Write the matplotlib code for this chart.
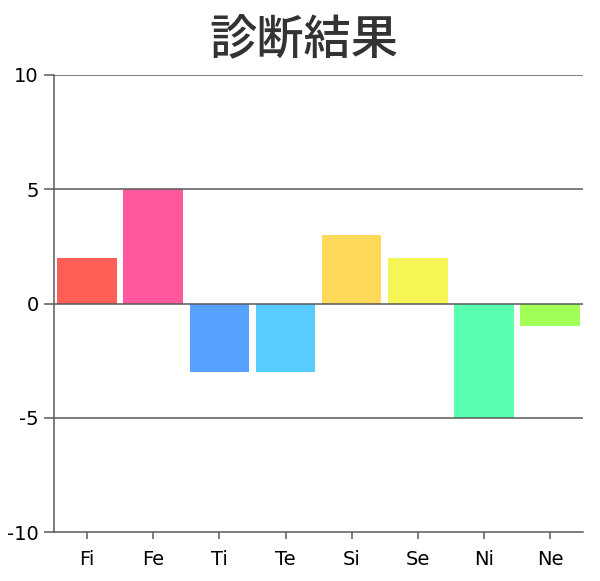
import matplotlib

matplotlib.use("Agg")

import matplotlib.pyplot as plt

categories = ["Fi", "Fe", "Ti", "Te", "Si", "Se", "Ni", "Ne"]
values = [2, 5, -3, -3, 3, 2, -5, -1]
bar_colors = ["#FF5E57", "#FF589E", "#58A2FF", "#58CCFF",
              "#FFD95A", "#F5F556", "#58FFB0", "#A2FF58"]
y_ticks = [-10, -5, 0, 5, 10]
title = "診断結果"

line_color = "#5a5a5a"

plt.rcParams["font.family"] = ["DejaVu Sans", "Noto Sans CJK JP"]
plt.rcParams["axes.unicode_minus"] = False

fig = plt.figure(figsize=(6.0, 5.81), dpi=100)
ax = fig.add_axes([0.09, 0.084, 0.882, 0.787])

x = range(len(categories))
ax.bar(x, values, width=0.9, color=bar_colors, zorder=1)

ax.set_xlim(-0.5, len(categories) - 0.5)
ax.set_ylim(min(y_ticks), max(y_ticks))
ax.set_yticks(y_ticks)
ax.set_xticks(list(x))
ax.set_xticklabels(categories)

# horizontal grid lines drawn over the bars at each tick above the floor
for t in y_ticks[1:]:
    ax.axhline(t, color=line_color, linewidth=1.1, zorder=3)

for side in ("top", "right"):
    ax.spines[side].set_visible(False)
for side in ("left", "bottom"):
    ax.spines[side].set_color(line_color)
    ax.spines[side].set_linewidth(1.1)

ax.tick_params(axis="y", length=7, width=1.1, color=line_color,
               labelsize=14, labelcolor="#000000", pad=4)
ax.tick_params(axis="x", length=5, width=1.1, color=line_color,
               labelsize=14, labelcolor="#000000", pad=8)

fig.text(0.507, 0.93, title, ha="center", va="center", fontsize=34,
         fontweight="medium", color="#333333",
         family=["Noto Sans CJK JP", "DejaVu Sans"])

fig.savefig("out.png", dpi=100, facecolor="white")
